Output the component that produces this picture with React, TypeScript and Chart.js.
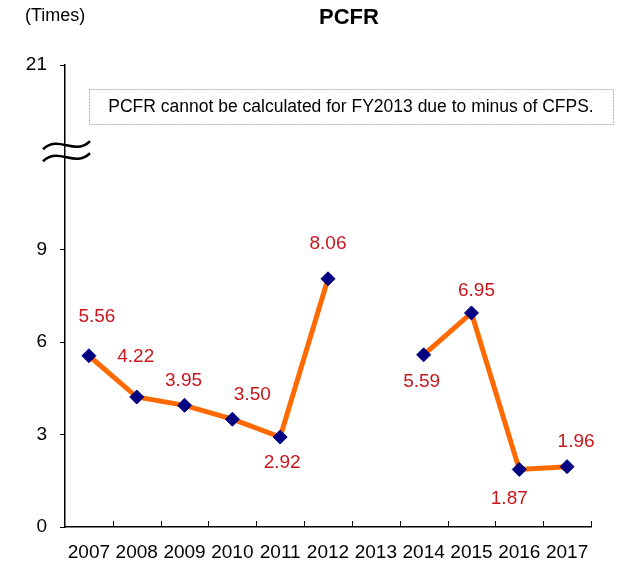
import React, { useEffect, useRef } from "react";
import { Chart, registerables } from "chart.js";

Chart.register(...registerables);

const years = ["2007", "2008", "2009", "2010", "2011", "2012", "2013", "2014", "2015", "2016", "2017"];
const pcfr: (number | null)[] = [5.56, 4.22, 3.95, 3.5, 2.92, 8.06, null, 5.59, 6.95, 1.87, 1.96];
const pcfrLabels = ["5.56", "4.22", "3.95", "3.50", "2.92", "8.06", "", "5.59", "6.95", "1.87", "1.96"];
// label offsets relative to each point (dx, dy)
const labelDx = [8, -1, -1, 20, 2, 0, 0, -2, 5, -10, 9];
const labelDy = [-39, -40, -25, -24, 26, -35, 0, 27, -22, 29, -25];
const yTickValues = [0, 3, 6, 9, 15];
const yTickText: Record<number, string> = { 0: "0", 3: "3", 6: "6", 9: "9", 15: "21" };
const breakValue = 12.2;
const titleText = "PCFR";
const unitText = "(Times)";
const noteText = "PCFR cannot be calculated for FY2013 due to minus of CFPS.";

const FONT = "'Liberation Sans', Arial, sans-serif";

const overlay = {
  id: "overlay",
  afterDatasetsDraw(chart: any) {
    const ctx = chart.ctx;
    const { left, right, bottom } = chart.chartArea;
    const ys = chart.scales.y;
    ctx.save();
    // inner x tick marks between categories
    ctx.strokeStyle = "#000";
    ctx.lineWidth = 1;
    const n = years.length;
    for (let i = 1; i <= n; i++) {
      const x = Math.round(left + ((right - left) * i) / n) + 0.5;
      ctx.beginPath();
      ctx.moveTo(x, bottom);
      ctx.lineTo(x, bottom - 6);
      ctx.stroke();
    }
    // data labels
    ctx.fillStyle = "#C8161D";
    ctx.font = `19px ${FONT}`;
    ctx.textAlign = "center";
    ctx.textBaseline = "middle";
    const meta = chart.getDatasetMeta(0);
    pcfr.forEach((v, i) => {
      if (v == null) return;
      const pt = meta.data[i];
      ctx.fillText(pcfrLabels[i], pt.x + labelDx[i], pt.y + labelDy[i]);
    });
    // title
    ctx.fillStyle = "#000";
    ctx.font = `bold 22px ${FONT}`;
    ctx.fillText(titleText, 349, 18);
    ctx.font = `18px ${FONT}`;
    ctx.textAlign = "left";
    ctx.fillText(unitText, 25, 16);
    // note box
    ctx.setLineDash([2, 1]);
    ctx.strokeStyle = "#b0b0b0";
    ctx.strokeRect(89.5, 89.5, 524, 35);
    ctx.setLineDash([]);
    ctx.fillStyle = "#000";
    ctx.font = `17.5px ${FONT}`;
    ctx.textAlign = "center";
    ctx.fillText(noteText, 351, 107);
    // break symbol
    const by = ys.getPixelForValue(breakValue);
    const bx0 = 43;
    const w = 47;
    ctx.strokeStyle = "#000";
    ctx.lineWidth = 2.5;
    [-6, 6].forEach((off) => {
      const y = by + off;
      ctx.beginPath();
      ctx.moveTo(bx0, y + 4);
      ctx.bezierCurveTo(bx0 + w / 3, y - 11, bx0 + (2 * w) / 3, y + 11, bx0 + w, y - 4);
      ctx.stroke();
    });
    ctx.restore();
  },
};

export default function App() {
  const ref = useRef<HTMLCanvasElement>(null);
  useEffect(() => {
    if (!ref.current) return;
    const chart = new Chart(ref.current, {
      type: "line",
      data: {
        labels: years,
        datasets: [
          {
            data: pcfr,
            borderColor: "#FF6A00",
            borderWidth: 5,
            pointStyle: "rectRot",
            pointRadius: 7,
            pointBackgroundColor: "#000080",
            pointBorderColor: "#000080",
            pointBorderWidth: 1,
            spanGaps: false,
            tension: 0,
          },
        ],
      },
      options: {
        responsive: false,
        animation: false,
        layout: { padding: { top: 65, right: 26, left: 0, bottom: 0 } },
        plugins: { legend: { display: false }, title: { display: false }, tooltip: { enabled: false } },
        scales: {
          x: {
            offset: true,
            grid: { display: false },
            border: { color: "#000", width: 1.5 },
            ticks: { color: "#000", font: { size: 19, family: FONT }, padding: 6, maxRotation: 0, autoSkip: false },
            afterFit: (s: any) => {
              s.height = 36;
            },
          },
          y: {
            min: 0,
            max: 15,
            grid: { drawOnChartArea: false, drawTicks: true, tickLength: 5, color: "#000" },
            border: { color: "#000", width: 1.5 },
            afterBuildTicks: (s: any) => {
              s.ticks = yTickValues.map((v) => ({ value: v }));
            },
            ticks: {
              color: "#000",
              font: { size: 19, family: FONT },
              padding: 13,
              callback: (v: any) => yTickText[v as number] ?? "",
            },
            afterFit: (s: any) => {
              s.width = 65;
            },
          },
        },
      },
      plugins: [overlay],
    });
    return () => chart.destroy();
  }, []);
  return (
    <div style={{ position: "absolute", left: 0, top: 0, width: 617, height: 563, background: "#fff" }}>
      <canvas ref={ref} width={617} height={563} />
    </div>
  );
}
